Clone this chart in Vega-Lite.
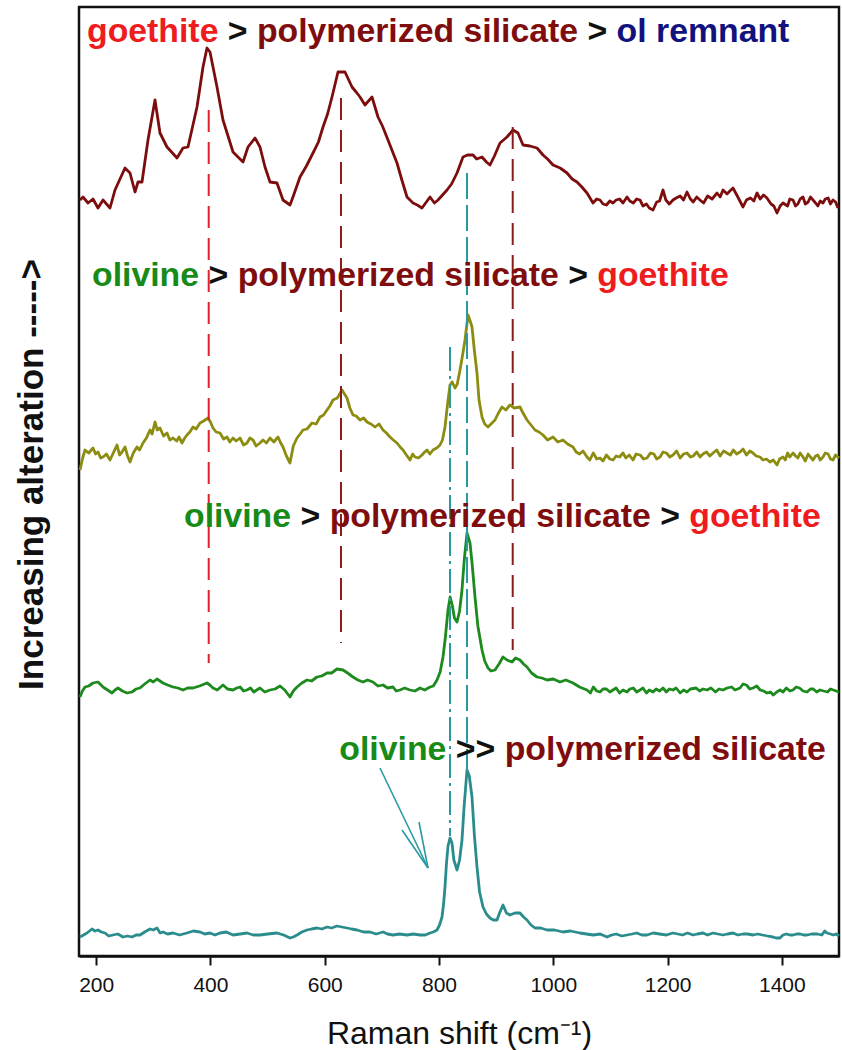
{
  "$schema": "https://vega.github.io/schema/vega-lite/v6.json",
  "width": 760,
  "height": 949,
  "autosize": {"type": "none"},
  "padding": {"left": 79, "top": 7, "right": 3, "bottom": 94},
  "config": {
    "view": {"stroke": "#111111", "strokeWidth": 2.5},
    "font": "Liberation Sans"
  },
  "datasets": {
    "spectra": [
      {"sample":"A","shift":171.75,"intensity":756},{"sample":"A","shift":177,"intensity":759},{"sample":"A","shift":185.75,"intensity":753},{"sample":"A","shift":194.5,"intensity":757},{"sample":"A","shift":203.25,"intensity":748},{"sample":"A","shift":212,"intensity":756},{"sample":"A","shift":224.25,"intensity":748},{"sample":"A","shift":233,"intensity":766},{"sample":"A","shift":250.5,"intensity":788},{"sample":"A","shift":259.25,"intensity":783},{"sample":"A","shift":268,"intensity":764},{"sample":"A","shift":273.25,"intensity":774},{"sample":"A","shift":280.25,"intensity":774},{"sample":"A","shift":290.75,"intensity":816},{"sample":"A","shift":303,"intensity":856},{"sample":"A","shift":311.75,"intensity":823},{"sample":"A","shift":324,"intensity":809},{"sample":"A","shift":341.5,"intensity":798},{"sample":"A","shift":352,"intensity":808},{"sample":"A","shift":360.75,"intensity":809},{"sample":"A","shift":376.5,"intensity":849},{"sample":"A","shift":387,"intensity":889},{"sample":"A","shift":394,"intensity":908},{"sample":"A","shift":399.25,"intensity":904},{"sample":"A","shift":411.5,"intensity":869},{"sample":"A","shift":422,"intensity":836},{"sample":"A","shift":439.5,"intensity":804},{"sample":"A","shift":457,"intensity":794},{"sample":"A","shift":465.75,"intensity":809},{"sample":"A","shift":478,"intensity":818},{"sample":"A","shift":486.75,"intensity":809},{"sample":"A","shift":495.5,"intensity":789},{"sample":"A","shift":504.25,"intensity":774},{"sample":"A","shift":516.5,"intensity":773},{"sample":"A","shift":527,"intensity":756},{"sample":"A","shift":539.25,"intensity":751},{"sample":"A","shift":544.5,"intensity":759},{"sample":"A","shift":556.75,"intensity":779},{"sample":"A","shift":568,"intensity":790},{"sample":"A","shift":579.5,"intensity":803},{"sample":"A","shift":589,"intensity":814},{"sample":"A","shift":597,"intensity":829},{"sample":"A","shift":605,"intensity":842},{"sample":"A","shift":612.75,"intensity":859},{"sample":"A","shift":623.25,"intensity":884},{"sample":"A","shift":635.5,"intensity":884},{"sample":"A","shift":647.75,"intensity":869},{"sample":"A","shift":655,"intensity":864},{"sample":"A","shift":661.75,"intensity":859},{"sample":"A","shift":670.5,"intensity":851},{"sample":"A","shift":682.75,"intensity":859},{"sample":"A","shift":693.25,"intensity":839},{"sample":"A","shift":701,"intensity":830},{"sample":"A","shift":710.75,"intensity":816},{"sample":"A","shift":726.5,"intensity":793},{"sample":"A","shift":735,"intensity":776},{"sample":"A","shift":744,"intensity":759},{"sample":"A","shift":754.5,"intensity":753},{"sample":"A","shift":762,"intensity":751},{"sample":"A","shift":770.25,"intensity":748},{"sample":"A","shift":784.25,"intensity":759},{"sample":"A","shift":792,"intensity":753},{"sample":"A","shift":798.25,"intensity":756},{"sample":"A","shift":814,"intensity":766},{"sample":"A","shift":822,"intensity":772},{"sample":"A","shift":831.5,"intensity":783},{"sample":"A","shift":842,"intensity":799},{"sample":"A","shift":850,"intensity":801},{"sample":"A","shift":859.5,"intensity":801},{"sample":"A","shift":866,"intensity":797},{"sample":"A","shift":875.25,"intensity":799},{"sample":"A","shift":883,"intensity":794},{"sample":"A","shift":889.25,"intensity":791},{"sample":"A","shift":897,"intensity":800},{"sample":"A","shift":906.75,"intensity":813},{"sample":"A","shift":919,"intensity":819},{"sample":"A","shift":929.5,"intensity":826},{"sample":"A","shift":938.25,"intensity":823},{"sample":"A","shift":947,"intensity":811},{"sample":"A","shift":959,"intensity":810},{"sample":"A","shift":971.5,"intensity":808},{"sample":"A","shift":982,"intensity":801},{"sample":"A","shift":990,"intensity":797},{"sample":"A","shift":999.5,"intensity":791},{"sample":"A","shift":1012,"intensity":788},{"sample":"A","shift":1024,"intensity":783},{"sample":"A","shift":1033,"intensity":777},{"sample":"A","shift":1041.5,"intensity":774},{"sample":"A","shift":1050,"intensity":769},{"sample":"A","shift":1059,"intensity":763},{"sample":"A","shift":1069.5,"intensity":753},{"sample":"A","shift":1076,"intensity":757},{"sample":"A","shift":1081.75,"intensity":756},{"sample":"A","shift":1087,"intensity":752},{"sample":"A","shift":1093,"intensity":751},{"sample":"A","shift":1099,"intensity":755},{"sample":"A","shift":1104.5,"intensity":753},{"sample":"A","shift":1110,"intensity":756},{"sample":"A","shift":1116,"intensity":757},{"sample":"A","shift":1122,"intensity":753},{"sample":"A","shift":1129,"intensity":759},{"sample":"A","shift":1134,"intensity":755},{"sample":"A","shift":1140,"intensity":753},{"sample":"A","shift":1146,"intensity":757},{"sample":"A","shift":1151.75,"intensity":756},{"sample":"A","shift":1157,"intensity":750},{"sample":"A","shift":1163,"intensity":752},{"sample":"A","shift":1168,"intensity":748},{"sample":"A","shift":1174.5,"intensity":746},{"sample":"A","shift":1181,"intensity":754},{"sample":"A","shift":1186,"intensity":755},{"sample":"A","shift":1192,"intensity":766},{"sample":"A","shift":1197,"intensity":756},{"sample":"A","shift":1203,"intensity":752},{"sample":"A","shift":1209.5,"intensity":756},{"sample":"A","shift":1215,"intensity":758},{"sample":"A","shift":1222,"intensity":760},{"sample":"A","shift":1228,"intensity":756},{"sample":"A","shift":1234,"intensity":764},{"sample":"A","shift":1240,"intensity":757},{"sample":"A","shift":1245,"intensity":754},{"sample":"A","shift":1251,"intensity":759},{"sample":"A","shift":1256.75,"intensity":756},{"sample":"A","shift":1263,"intensity":753},{"sample":"A","shift":1270,"intensity":760},{"sample":"A","shift":1278,"intensity":757},{"sample":"A","shift":1286.5,"intensity":763},{"sample":"A","shift":1292,"intensity":759},{"sample":"A","shift":1297,"intensity":766},{"sample":"A","shift":1304,"intensity":762},{"sample":"A","shift":1309,"intensity":765},{"sample":"A","shift":1314.5,"intensity":768},{"sample":"A","shift":1322,"intensity":760},{"sample":"A","shift":1332,"intensity":749},{"sample":"A","shift":1338,"intensity":756},{"sample":"A","shift":1345,"intensity":758},{"sample":"A","shift":1351,"intensity":755},{"sample":"A","shift":1356.5,"intensity":763},{"sample":"A","shift":1362,"intensity":757},{"sample":"A","shift":1368,"intensity":761},{"sample":"A","shift":1374,"intensity":758},{"sample":"A","shift":1381,"intensity":752},{"sample":"A","shift":1386,"intensity":750},{"sample":"A","shift":1391.5,"intensity":743},{"sample":"A","shift":1397,"intensity":750},{"sample":"A","shift":1402,"intensity":753},{"sample":"A","shift":1410,"intensity":750},{"sample":"A","shift":1414,"intensity":757},{"sample":"A","shift":1419.5,"intensity":756},{"sample":"A","shift":1424,"intensity":750},{"sample":"A","shift":1428,"intensity":752},{"sample":"A","shift":1432,"intensity":757},{"sample":"A","shift":1437,"intensity":759},{"sample":"A","shift":1441,"intensity":752},{"sample":"A","shift":1446,"intensity":754},{"sample":"A","shift":1450,"intensity":759},{"sample":"A","shift":1454.5,"intensity":756},{"sample":"A","shift":1459,"intensity":753},{"sample":"A","shift":1463,"intensity":750},{"sample":"A","shift":1467,"intensity":755},{"sample":"A","shift":1472,"intensity":753},{"sample":"A","shift":1476,"intensity":757},{"sample":"A","shift":1481,"intensity":758},{"sample":"A","shift":1485,"intensity":752},{"sample":"A","shift":1489.5,"intensity":756},{"sample":"A","shift":1494,"intensity":754},{"sample":"A","shift":1498.25,"intensity":748},

      {"sample":"B","shift":171.75,"intensity":486},{"sample":"B","shift":176,"intensity":497},{"sample":"B","shift":180.5,"intensity":506},{"sample":"B","shift":187,"intensity":503},{"sample":"B","shift":194.5,"intensity":508},{"sample":"B","shift":199,"intensity":502},{"sample":"B","shift":203.25,"intensity":504},{"sample":"B","shift":208,"intensity":498},{"sample":"B","shift":212,"intensity":499},{"sample":"B","shift":218,"intensity":502},{"sample":"B","shift":224.25,"intensity":496},{"sample":"B","shift":230,"intensity":503},{"sample":"B","shift":236.5,"intensity":511},{"sample":"B","shift":241,"intensity":501},{"sample":"B","shift":245.25,"intensity":504},{"sample":"B","shift":250.5,"intensity":509},{"sample":"B","shift":255,"intensity":500},{"sample":"B","shift":259.25,"intensity":494},{"sample":"B","shift":265,"intensity":503},{"sample":"B","shift":271.5,"intensity":509},{"sample":"B","shift":276,"intensity":506},{"sample":"B","shift":282,"intensity":513},{"sample":"B","shift":288,"intensity":518},{"sample":"B","shift":294.25,"intensity":526},{"sample":"B","shift":298,"intensity":522},{"sample":"B","shift":303,"intensity":534},{"sample":"B","shift":307,"intensity":526},{"sample":"B","shift":311.75,"intensity":528},{"sample":"B","shift":318,"intensity":520},{"sample":"B","shift":324,"intensity":523},{"sample":"B","shift":329,"intensity":516},{"sample":"B","shift":334.5,"intensity":518},{"sample":"B","shift":341,"intensity":515},{"sample":"B","shift":345,"intensity":519},{"sample":"B","shift":350.25,"intensity":513},{"sample":"B","shift":355,"intensity":518},{"sample":"B","shift":359,"intensity":521},{"sample":"B","shift":364,"intensity":524},{"sample":"B","shift":369.5,"intensity":529},{"sample":"B","shift":375,"intensity":527},{"sample":"B","shift":381.75,"intensity":533},{"sample":"B","shift":388,"intensity":535},{"sample":"B","shift":395.75,"intensity":538},{"sample":"B","shift":400,"intensity":534},{"sample":"B","shift":404.5,"intensity":528},{"sample":"B","shift":410,"intensity":524},{"sample":"B","shift":416.75,"intensity":523},{"sample":"B","shift":423,"intensity":517},{"sample":"B","shift":429,"intensity":519},{"sample":"B","shift":434,"intensity":514},{"sample":"B","shift":439.5,"intensity":518},{"sample":"B","shift":445,"intensity":515},{"sample":"B","shift":451.75,"intensity":518},{"sample":"B","shift":458,"intensity":511},{"sample":"B","shift":464,"intensity":513},{"sample":"B","shift":469,"intensity":518},{"sample":"B","shift":474.5,"intensity":516},{"sample":"B","shift":480,"intensity":510},{"sample":"B","shift":486.75,"intensity":513},{"sample":"B","shift":492,"intensity":516},{"sample":"B","shift":498,"intensity":513},{"sample":"B","shift":504.25,"intensity":518},{"sample":"B","shift":511,"intensity":514},{"sample":"B","shift":518.25,"intensity":519},{"sample":"B","shift":523,"intensity":513},{"sample":"B","shift":527,"intensity":509},{"sample":"B","shift":533,"intensity":500},{"sample":"B","shift":539.25,"intensity":493},{"sample":"B","shift":545,"intensity":510},{"sample":"B","shift":551.5,"intensity":518},{"sample":"B","shift":557,"intensity":522},{"sample":"B","shift":562,"intensity":526},{"sample":"B","shift":569,"intensity":527},{"sample":"B","shift":577.75,"intensity":533},{"sample":"B","shift":585,"intensity":532},{"sample":"B","shift":591.75,"intensity":539},{"sample":"B","shift":598,"intensity":541},{"sample":"B","shift":604,"intensity":546},{"sample":"B","shift":609,"intensity":550},{"sample":"B","shift":614.5,"intensity":556},{"sample":"B","shift":622,"intensity":558},{"sample":"B","shift":630.25,"intensity":566},{"sample":"B","shift":639,"intensity":558},{"sample":"B","shift":644,"intensity":548},{"sample":"B","shift":649.5,"intensity":541},{"sample":"B","shift":655,"intensity":540},{"sample":"B","shift":661.75,"intensity":536},{"sample":"B","shift":668,"intensity":538},{"sample":"B","shift":674,"intensity":534},{"sample":"B","shift":681,"intensity":532},{"sample":"B","shift":688,"intensity":529},{"sample":"B","shift":695,"intensity":532},{"sample":"B","shift":702,"intensity":526},{"sample":"B","shift":708,"intensity":523},{"sample":"B","shift":714.25,"intensity":519},{"sample":"B","shift":720,"intensity":516},{"sample":"B","shift":726.5,"intensity":513},{"sample":"B","shift":732,"intensity":509},{"sample":"B","shift":737,"intensity":506},{"sample":"B","shift":743,"intensity":501},{"sample":"B","shift":749.25,"intensity":496},{"sample":"B","shift":754,"intensity":502},{"sample":"B","shift":758,"intensity":499},{"sample":"B","shift":764,"intensity":498},{"sample":"B","shift":770.25,"intensity":501},{"sample":"B","shift":775,"intensity":504},{"sample":"B","shift":779,"intensity":506},{"sample":"B","shift":784,"intensity":502},{"sample":"B","shift":789.5,"intensity":506},{"sample":"B","shift":796,"intensity":508},{"sample":"B","shift":801.75,"intensity":511},{"sample":"B","shift":806,"intensity":516},{"sample":"B","shift":810.5,"intensity":529},{"sample":"B","shift":815,"intensity":552},{"sample":"B","shift":819.25,"intensity":571},{"sample":"B","shift":823,"intensity":574},{"sample":"B","shift":828,"intensity":568},{"sample":"B","shift":832,"intensity":572},{"sample":"B","shift":836.75,"intensity":586},{"sample":"B","shift":841,"intensity":600},{"sample":"B","shift":845.5,"intensity":616},{"sample":"B","shift":850.75,"intensity":641},{"sample":"B","shift":854,"intensity":636},{"sample":"B","shift":857.75,"intensity":629},{"sample":"B","shift":862,"intensity":605},{"sample":"B","shift":866.5,"intensity":583},{"sample":"B","shift":870,"intensity":556},{"sample":"B","shift":875.25,"intensity":539},{"sample":"B","shift":880,"intensity":532},{"sample":"B","shift":885.75,"intensity":529},{"sample":"B","shift":891,"intensity":532},{"sample":"B","shift":898,"intensity":536},{"sample":"B","shift":904,"intensity":543},{"sample":"B","shift":910.25,"intensity":549},{"sample":"B","shift":917,"intensity":546},{"sample":"B","shift":924.25,"intensity":551},{"sample":"B","shift":932,"intensity":548},{"sample":"B","shift":941.75,"intensity":549},{"sample":"B","shift":947,"intensity":543},{"sample":"B","shift":954,"intensity":536},{"sample":"B","shift":961,"intensity":531},{"sample":"B","shift":968,"intensity":526},{"sample":"B","shift":975,"intensity":524},{"sample":"B","shift":982,"intensity":521},{"sample":"B","shift":990,"intensity":516},{"sample":"B","shift":999.5,"intensity":519},{"sample":"B","shift":1008,"intensity":514},{"sample":"B","shift":1017,"intensity":516},{"sample":"B","shift":1025,"intensity":512},{"sample":"B","shift":1034.5,"intensity":509},{"sample":"B","shift":1040,"intensity":504},{"sample":"B","shift":1046,"intensity":502},{"sample":"B","shift":1052,"intensity":505},{"sample":"B","shift":1059,"intensity":499},{"sample":"B","shift":1064,"intensity":496},{"sample":"B","shift":1070,"intensity":503},{"sample":"B","shift":1076,"intensity":497},{"sample":"B","shift":1081.75,"intensity":498},{"sample":"B","shift":1087,"intensity":495},{"sample":"B","shift":1093,"intensity":501},{"sample":"B","shift":1099,"intensity":497},{"sample":"B","shift":1104.5,"intensity":496},{"sample":"B","shift":1110,"intensity":500},{"sample":"B","shift":1116,"intensity":499},{"sample":"B","shift":1122,"intensity":503},{"sample":"B","shift":1127,"intensity":498},{"sample":"B","shift":1133,"intensity":501},{"sample":"B","shift":1139.5,"intensity":496},{"sample":"B","shift":1145,"intensity":502},{"sample":"B","shift":1152,"intensity":501},{"sample":"B","shift":1158,"intensity":497},{"sample":"B","shift":1164,"intensity":498},{"sample":"B","shift":1170,"intensity":503},{"sample":"B","shift":1176,"intensity":502},{"sample":"B","shift":1181,"intensity":497},{"sample":"B","shift":1186.75,"intensity":499},{"sample":"B","shift":1192,"intensity":504},{"sample":"B","shift":1198,"intensity":503},{"sample":"B","shift":1204,"intensity":499},{"sample":"B","shift":1209.5,"intensity":501},{"sample":"B","shift":1216,"intensity":505},{"sample":"B","shift":1222,"intensity":498},{"sample":"B","shift":1228,"intensity":502},{"sample":"B","shift":1234,"intensity":503},{"sample":"B","shift":1240,"intensity":499},{"sample":"B","shift":1245,"intensity":500},{"sample":"B","shift":1251,"intensity":504},{"sample":"B","shift":1256.75,"intensity":499},{"sample":"B","shift":1262,"intensity":502},{"sample":"B","shift":1268,"intensity":504},{"sample":"B","shift":1274,"intensity":500},{"sample":"B","shift":1279.5,"intensity":503},{"sample":"B","shift":1286,"intensity":506},{"sample":"B","shift":1292,"intensity":500},{"sample":"B","shift":1298,"intensity":505},{"sample":"B","shift":1304,"intensity":503},{"sample":"B","shift":1310,"intensity":501},{"sample":"B","shift":1315,"intensity":506},{"sample":"B","shift":1321,"intensity":502},{"sample":"B","shift":1326.75,"intensity":504},{"sample":"B","shift":1332,"intensity":507},{"sample":"B","shift":1338,"intensity":501},{"sample":"B","shift":1344,"intensity":505},{"sample":"B","shift":1349.5,"intensity":503},{"sample":"B","shift":1355,"intensity":500},{"sample":"B","shift":1361.75,"intensity":499},{"sample":"B","shift":1367,"intensity":496},{"sample":"B","shift":1373,"intensity":497},{"sample":"B","shift":1379.25,"intensity":494},{"sample":"B","shift":1385,"intensity":496},{"sample":"B","shift":1391.5,"intensity":491},{"sample":"B","shift":1396,"intensity":497},{"sample":"B","shift":1402,"intensity":499},{"sample":"B","shift":1406,"intensity":496},{"sample":"B","shift":1410,"intensity":503},{"sample":"B","shift":1414,"intensity":499},{"sample":"B","shift":1419.5,"intensity":503},{"sample":"B","shift":1424,"intensity":500},{"sample":"B","shift":1428,"intensity":498},{"sample":"B","shift":1432,"intensity":503},{"sample":"B","shift":1437,"intensity":499},{"sample":"B","shift":1441,"intensity":495},{"sample":"B","shift":1446,"intensity":502},{"sample":"B","shift":1450,"intensity":499},{"sample":"B","shift":1454.5,"intensity":496},{"sample":"B","shift":1459,"intensity":500},{"sample":"B","shift":1463,"intensity":501},{"sample":"B","shift":1467,"intensity":496},{"sample":"B","shift":1472,"intensity":499},{"sample":"B","shift":1476,"intensity":503},{"sample":"B","shift":1481,"intensity":502},{"sample":"B","shift":1485,"intensity":497},{"sample":"B","shift":1489.5,"intensity":496},{"sample":"B","shift":1494,"intensity":501},{"sample":"B","shift":1500,"intensity":498},

      {"sample":"C","shift":171.75,"intensity":259},{"sample":"C","shift":176,"intensity":265},{"sample":"C","shift":180.5,"intensity":269},{"sample":"C","shift":187,"intensity":270},{"sample":"C","shift":194.5,"intensity":273},{"sample":"C","shift":203.25,"intensity":274},{"sample":"C","shift":212,"intensity":269},{"sample":"C","shift":220,"intensity":266},{"sample":"C","shift":227.75,"intensity":263},{"sample":"C","shift":233,"intensity":266},{"sample":"C","shift":238.25,"intensity":268},{"sample":"C","shift":246,"intensity":265},{"sample":"C","shift":254,"intensity":263},{"sample":"C","shift":262.75,"intensity":264},{"sample":"C","shift":270,"intensity":267},{"sample":"C","shift":276.75,"intensity":268},{"sample":"C","shift":285,"intensity":272},{"sample":"C","shift":294.25,"intensity":276},{"sample":"C","shift":300,"intensity":274},{"sample":"C","shift":306.5,"intensity":277},{"sample":"C","shift":317,"intensity":273},{"sample":"C","shift":325,"intensity":271},{"sample":"C","shift":334.5,"intensity":269},{"sample":"C","shift":343,"intensity":268},{"sample":"C","shift":352,"intensity":266},{"sample":"C","shift":360,"intensity":268},{"sample":"C","shift":369.5,"intensity":268},{"sample":"C","shift":381,"intensity":270},{"sample":"C","shift":394,"intensity":273},{"sample":"C","shift":399,"intensity":271},{"sample":"C","shift":404.5,"intensity":268},{"sample":"C","shift":412,"intensity":266},{"sample":"C","shift":422,"intensity":271},{"sample":"C","shift":430,"intensity":267},{"sample":"C","shift":439.5,"intensity":266},{"sample":"C","shift":446,"intensity":268},{"sample":"C","shift":452,"intensity":269},{"sample":"C","shift":458,"intensity":265},{"sample":"C","shift":464,"intensity":266},{"sample":"C","shift":470,"intensity":268},{"sample":"C","shift":476,"intensity":264},{"sample":"C","shift":481,"intensity":266},{"sample":"C","shift":486.75,"intensity":268},{"sample":"C","shift":495,"intensity":264},{"sample":"C","shift":504.25,"intensity":266},{"sample":"C","shift":513,"intensity":267},{"sample":"C","shift":521.75,"intensity":270},{"sample":"C","shift":530,"intensity":266},{"sample":"C","shift":539.25,"intensity":259},{"sample":"C","shift":545,"intensity":265},{"sample":"C","shift":551.5,"intensity":269},{"sample":"C","shift":560,"intensity":273},{"sample":"C","shift":569,"intensity":276},{"sample":"C","shift":577,"intensity":275},{"sample":"C","shift":586.5,"intensity":279},{"sample":"C","shift":595,"intensity":280},{"sample":"C","shift":604,"intensity":283},{"sample":"C","shift":612,"intensity":283},{"sample":"C","shift":621.5,"intensity":287},{"sample":"C","shift":632,"intensity":286},{"sample":"C","shift":640,"intensity":283},{"sample":"C","shift":649.5,"intensity":279},{"sample":"C","shift":658,"intensity":276},{"sample":"C","shift":667,"intensity":274},{"sample":"C","shift":675,"intensity":276},{"sample":"C","shift":684.5,"intensity":274},{"sample":"C","shift":693,"intensity":270},{"sample":"C","shift":702,"intensity":271},{"sample":"C","shift":710,"intensity":268},{"sample":"C","shift":719.5,"intensity":269},{"sample":"C","shift":725,"intensity":265},{"sample":"C","shift":731.75,"intensity":266},{"sample":"C","shift":740,"intensity":268},{"sample":"C","shift":749.25,"intensity":266},{"sample":"C","shift":758,"intensity":265},{"sample":"C","shift":766.75,"intensity":268},{"sample":"C","shift":775,"intensity":266},{"sample":"C","shift":784.25,"intensity":269},{"sample":"C","shift":790,"intensity":270},{"sample":"C","shift":796.5,"intensity":276},{"sample":"C","shift":802,"intensity":284},{"sample":"C","shift":807,"intensity":299},{"sample":"C","shift":811,"intensity":318},{"sample":"C","shift":815.75,"intensity":346},{"sample":"C","shift":819.5,"intensity":359},{"sample":"C","shift":823.5,"intensity":350},{"sample":"C","shift":827,"intensity":338},{"sample":"C","shift":831.5,"intensity":334},{"sample":"C","shift":836,"intensity":345},{"sample":"C","shift":840.25,"intensity":366},{"sample":"C","shift":844,"intensity":395},{"sample":"C","shift":849,"intensity":423},{"sample":"C","shift":854.25,"intensity":413},{"sample":"C","shift":858,"intensity":392},{"sample":"C","shift":863,"intensity":359},{"sample":"C","shift":868,"intensity":330},{"sample":"C","shift":875.25,"intensity":306},{"sample":"C","shift":880,"intensity":295},{"sample":"C","shift":885.75,"intensity":288},{"sample":"C","shift":891,"intensity":285},{"sample":"C","shift":898,"intensity":286},{"sample":"C","shift":905,"intensity":292},{"sample":"C","shift":912,"intensity":299},{"sample":"C","shift":919,"intensity":296},{"sample":"C","shift":927.75,"intensity":294},{"sample":"C","shift":934,"intensity":298},{"sample":"C","shift":941.75,"intensity":296},{"sample":"C","shift":948,"intensity":292},{"sample":"C","shift":954,"intensity":289},{"sample":"C","shift":962,"intensity":283},{"sample":"C","shift":971.5,"intensity":279},{"sample":"C","shift":980,"intensity":278},{"sample":"C","shift":989,"intensity":276},{"sample":"C","shift":1000,"intensity":277},{"sample":"C","shift":1011.75,"intensity":274},{"sample":"C","shift":1022,"intensity":276},{"sample":"C","shift":1034.5,"intensity":273},{"sample":"C","shift":1046,"intensity":269},{"sample":"C","shift":1059,"intensity":266},{"sample":"C","shift":1065,"intensity":263},{"sample":"C","shift":1070,"intensity":269},{"sample":"C","shift":1076,"intensity":265},{"sample":"C","shift":1081.75,"intensity":264},{"sample":"C","shift":1087,"intensity":267},{"sample":"C","shift":1093,"intensity":267},{"sample":"C","shift":1099,"intensity":264},{"sample":"C","shift":1104.5,"intensity":266},{"sample":"C","shift":1110,"intensity":268},{"sample":"C","shift":1116,"intensity":263},{"sample":"C","shift":1122,"intensity":266},{"sample":"C","shift":1129,"intensity":264},{"sample":"C","shift":1134,"intensity":267},{"sample":"C","shift":1140,"intensity":268},{"sample":"C","shift":1146,"intensity":264},{"sample":"C","shift":1151.75,"intensity":266},{"sample":"C","shift":1157,"intensity":268},{"sample":"C","shift":1163,"intensity":263},{"sample":"C","shift":1168,"intensity":266},{"sample":"C","shift":1174.5,"intensity":264},{"sample":"C","shift":1180,"intensity":267},{"sample":"C","shift":1186,"intensity":265},{"sample":"C","shift":1192,"intensity":268},{"sample":"C","shift":1198,"intensity":264},{"sample":"C","shift":1203,"intensity":267},{"sample":"C","shift":1209.5,"intensity":266},{"sample":"C","shift":1215,"intensity":268},{"sample":"C","shift":1222,"intensity":263},{"sample":"C","shift":1228,"intensity":266},{"sample":"C","shift":1234,"intensity":264},{"sample":"C","shift":1240,"intensity":267},{"sample":"C","shift":1250,"intensity":268},{"sample":"C","shift":1256,"intensity":265},{"sample":"C","shift":1262,"intensity":267},{"sample":"C","shift":1269,"intensity":266},{"sample":"C","shift":1276,"intensity":268},{"sample":"C","shift":1284,"intensity":264},{"sample":"C","shift":1290,"intensity":267},{"sample":"C","shift":1297,"intensity":266},{"sample":"C","shift":1304,"intensity":268},{"sample":"C","shift":1312,"intensity":269},{"sample":"C","shift":1318,"intensity":266},{"sample":"C","shift":1326.75,"intensity":268},{"sample":"C","shift":1332,"intensity":272},{"sample":"C","shift":1338,"intensity":271},{"sample":"C","shift":1344,"intensity":267},{"sample":"C","shift":1349.5,"intensity":268},{"sample":"C","shift":1356,"intensity":270},{"sample":"C","shift":1362,"intensity":266},{"sample":"C","shift":1368,"intensity":265},{"sample":"C","shift":1374,"intensity":263},{"sample":"C","shift":1380,"intensity":264},{"sample":"C","shift":1385,"intensity":261},{"sample":"C","shift":1391,"intensity":264},{"sample":"C","shift":1396.75,"intensity":266},{"sample":"C","shift":1402,"intensity":264},{"sample":"C","shift":1408,"intensity":268},{"sample":"C","shift":1414,"intensity":265},{"sample":"C","shift":1419.5,"intensity":266},{"sample":"C","shift":1425,"intensity":269},{"sample":"C","shift":1431,"intensity":268},{"sample":"C","shift":1437,"intensity":265},{"sample":"C","shift":1444,"intensity":264},{"sample":"C","shift":1450,"intensity":267},{"sample":"C","shift":1455,"intensity":267},{"sample":"C","shift":1461,"intensity":264},{"sample":"C","shift":1466.75,"intensity":266},{"sample":"C","shift":1473,"intensity":265},{"sample":"C","shift":1480,"intensity":264},{"sample":"C","shift":1485,"intensity":267},{"sample":"C","shift":1490,"intensity":266},{"sample":"C","shift":1495,"intensity":265},{"sample":"C","shift":1500,"intensity":264},

      {"sample":"D","shift":171.75,"intensity":19},{"sample":"D","shift":178,"intensity":21},{"sample":"D","shift":184,"intensity":23},{"sample":"D","shift":192.75,"intensity":27},{"sample":"D","shift":198,"intensity":25},{"sample":"D","shift":203.25,"intensity":26},{"sample":"D","shift":209,"intensity":24},{"sample":"D","shift":215.5,"intensity":23},{"sample":"D","shift":222,"intensity":20},{"sample":"D","shift":229.5,"intensity":21},{"sample":"D","shift":238,"intensity":22},{"sample":"D","shift":247,"intensity":19},{"sample":"D","shift":255,"intensity":20},{"sample":"D","shift":262.75,"intensity":19},{"sample":"D","shift":270,"intensity":21},{"sample":"D","shift":276.75,"intensity":21},{"sample":"D","shift":285,"intensity":24},{"sample":"D","shift":294.25,"intensity":27},{"sample":"D","shift":300,"intensity":26},{"sample":"D","shift":306.5,"intensity":28},{"sample":"D","shift":312,"intensity":23},{"sample":"D","shift":317,"intensity":24},{"sample":"D","shift":325,"intensity":22},{"sample":"D","shift":334.5,"intensity":23},{"sample":"D","shift":346,"intensity":21},{"sample":"D","shift":359,"intensity":23},{"sample":"D","shift":370,"intensity":25},{"sample":"D","shift":381.75,"intensity":24},{"sample":"D","shift":390,"intensity":22},{"sample":"D","shift":399.25,"intensity":23},{"sample":"D","shift":408,"intensity":21},{"sample":"D","shift":416.75,"intensity":23},{"sample":"D","shift":428,"intensity":24},{"sample":"D","shift":439.5,"intensity":21},{"sample":"D","shift":452,"intensity":22},{"sample":"D","shift":464,"intensity":23},{"sample":"D","shift":475,"intensity":21},{"sample":"D","shift":486.75,"intensity":21},{"sample":"D","shift":500,"intensity":22},{"sample":"D","shift":516.5,"intensity":23},{"sample":"D","shift":528,"intensity":21},{"sample":"D","shift":539.25,"intensity":18},{"sample":"D","shift":545,"intensity":19},{"sample":"D","shift":551.5,"intensity":21},{"sample":"D","shift":560,"intensity":24},{"sample":"D","shift":569,"intensity":26},{"sample":"D","shift":577,"intensity":27},{"sample":"D","shift":586.5,"intensity":28},{"sample":"D","shift":595,"intensity":27},{"sample":"D","shift":604,"intensity":29},{"sample":"D","shift":612,"intensity":28},{"sample":"D","shift":621.5,"intensity":30},{"sample":"D","shift":630,"intensity":29},{"sample":"D","shift":639,"intensity":28},{"sample":"D","shift":647,"intensity":27},{"sample":"D","shift":656.5,"intensity":26},{"sample":"D","shift":668,"intensity":24},{"sample":"D","shift":679.25,"intensity":24},{"sample":"D","shift":690,"intensity":22},{"sample":"D","shift":702,"intensity":24},{"sample":"D","shift":710,"intensity":22},{"sample":"D","shift":719.5,"intensity":21},{"sample":"D","shift":731,"intensity":22},{"sample":"D","shift":744,"intensity":21},{"sample":"D","shift":755,"intensity":22},{"sample":"D","shift":766.75,"intensity":21},{"sample":"D","shift":776,"intensity":21},{"sample":"D","shift":784.25,"intensity":23},{"sample":"D","shift":790,"intensity":24},{"sample":"D","shift":796.5,"intensity":26},{"sample":"D","shift":801,"intensity":31},{"sample":"D","shift":805.25,"intensity":39},{"sample":"D","shift":808,"intensity":52},{"sample":"D","shift":810.5,"intensity":69},{"sample":"D","shift":813,"intensity":92},{"sample":"D","shift":815.75,"intensity":110},{"sample":"D","shift":819.25,"intensity":118},{"sample":"D","shift":822.75,"intensity":113},{"sample":"D","shift":826,"intensity":96},{"sample":"D","shift":831.5,"intensity":86},{"sample":"D","shift":836,"intensity":96},{"sample":"D","shift":840.25,"intensity":116},{"sample":"D","shift":844,"intensity":150},{"sample":"D","shift":849,"intensity":186},{"sample":"D","shift":853,"intensity":180},{"sample":"D","shift":857.75,"intensity":159},{"sample":"D","shift":862,"intensity":120},{"sample":"D","shift":866.5,"intensity":89},{"sample":"D","shift":871,"intensity":64},{"sample":"D","shift":877,"intensity":49},{"sample":"D","shift":883,"intensity":42},{"sample":"D","shift":889.25,"intensity":38},{"sample":"D","shift":895,"intensity":36},{"sample":"D","shift":901.5,"intensity":36},{"sample":"D","shift":906,"intensity":43},{"sample":"D","shift":912,"intensity":51},{"sample":"D","shift":918,"intensity":43},{"sample":"D","shift":924.25,"intensity":41},{"sample":"D","shift":933,"intensity":43},{"sample":"D","shift":941.75,"intensity":43},{"sample":"D","shift":948,"intensity":39},{"sample":"D","shift":954,"intensity":36},{"sample":"D","shift":961,"intensity":31},{"sample":"D","shift":968,"intensity":28},{"sample":"D","shift":978,"intensity":28},{"sample":"D","shift":989,"intensity":26},{"sample":"D","shift":1002,"intensity":26},{"sample":"D","shift":1017,"intensity":24},{"sample":"D","shift":1030,"intensity":25},{"sample":"D","shift":1046.75,"intensity":23},{"sample":"D","shift":1058,"intensity":22},{"sample":"D","shift":1070,"intensity":21},{"sample":"D","shift":1082,"intensity":22},{"sample":"D","shift":1094,"intensity":19},{"sample":"D","shift":1102,"intensity":21},{"sample":"D","shift":1110,"intensity":22},{"sample":"D","shift":1120,"intensity":20},{"sample":"D","shift":1129,"intensity":21},{"sample":"D","shift":1138,"intensity":22},{"sample":"D","shift":1146,"intensity":23},{"sample":"D","shift":1155,"intensity":21},{"sample":"D","shift":1164,"intensity":21},{"sample":"D","shift":1175,"intensity":23},{"sample":"D","shift":1186,"intensity":22},{"sample":"D","shift":1198,"intensity":21},{"sample":"D","shift":1209.5,"intensity":23},{"sample":"D","shift":1218,"intensity":22},{"sample":"D","shift":1226,"intensity":21},{"sample":"D","shift":1235,"intensity":23},{"sample":"D","shift":1244.5,"intensity":21},{"sample":"D","shift":1252,"intensity":22},{"sample":"D","shift":1262,"intensity":23},{"sample":"D","shift":1270,"intensity":21},{"sample":"D","shift":1279.5,"intensity":23},{"sample":"D","shift":1288,"intensity":22},{"sample":"D","shift":1297,"intensity":21},{"sample":"D","shift":1305,"intensity":22},{"sample":"D","shift":1314.5,"intensity":23},{"sample":"D","shift":1323,"intensity":21},{"sample":"D","shift":1332,"intensity":22},{"sample":"D","shift":1340,"intensity":22},{"sample":"D","shift":1349.5,"intensity":21},{"sample":"D","shift":1358,"intensity":22},{"sample":"D","shift":1366,"intensity":21},{"sample":"D","shift":1375,"intensity":20},{"sample":"D","shift":1384.5,"intensity":19},{"sample":"D","shift":1390,"intensity":18},{"sample":"D","shift":1396.75,"intensity":18},{"sample":"D","shift":1402,"intensity":21},{"sample":"D","shift":1408,"intensity":22},{"sample":"D","shift":1414,"intensity":21},{"sample":"D","shift":1419.5,"intensity":21},{"sample":"D","shift":1426,"intensity":22},{"sample":"D","shift":1432,"intensity":22},{"sample":"D","shift":1438,"intensity":21},{"sample":"D","shift":1444,"intensity":21},{"sample":"D","shift":1452,"intensity":22},{"sample":"D","shift":1462,"intensity":22},{"sample":"D","shift":1470,"intensity":21},{"sample":"D","shift":1475,"intensity":25},{"sample":"D","shift":1479,"intensity":23},{"sample":"D","shift":1485,"intensity":22},{"sample":"D","shift":1490,"intensity":21},{"sample":"D","shift":1495,"intensity":22},{"sample":"D","shift":1500,"intensity":20}
    ],
    "markers": [
      {"band": "goethite", "shift": 397, "top": 846, "bottom": 293},
      {"band": "silicate", "shift": 628.5, "top": 858, "bottom": 313},
      {"band": "silicate", "shift": 929, "top": 829, "bottom": 306},
      {"band": "olivine 849", "shift": 849, "top": 783, "bottom": 186},
      {"band": "olivine 819", "shift": 819.25, "top": 609, "bottom": 120}
    ],
    "arrow": [
      {"shift": 696.75, "intensity": 188, "shift_end": 780.75, "intensity_end": 88},
      {"shift": 735.25, "intensity": 126, "shift_end": 780.75, "intensity_end": 88},
      {"shift": 765, "intensity": 134, "shift_end": 780.75, "intensity_end": 88}
    ],
    "labels": [
      {"kind": "goethite", "text": "goethite", "shift": 184, "intensity": 914},
      {"kind": "sep", "text": ">", "shift": 430.4, "intensity": 914},
      {"kind": "silicate", "text": "polymerized silicate", "shift": 481.3, "intensity": 914},
      {"kind": "sep", "text": ">", "shift": 1059.9, "intensity": 914},
      {"kind": "remnant", "text": "ol remnant", "shift": 1110.8, "intensity": 914},

      {"kind": "olivine", "text": "olivine", "shift": 192.75, "intensity": 670},
      {"kind": "sep", "text": ">", "shift": 396.6, "intensity": 670},
      {"kind": "silicate", "text": "polymerized silicate", "shift": 447.6, "intensity": 670},
      {"kind": "sep", "text": ">", "shift": 1026.1, "intensity": 670},
      {"kind": "goethite", "text": "goethite", "shift": 1077, "intensity": 670},

      {"kind": "olivine", "text": "olivine", "shift": 353.75, "intensity": 429},
      {"kind": "sep", "text": ">", "shift": 557.6, "intensity": 429},
      {"kind": "silicate", "text": "polymerized silicate", "shift": 608.6, "intensity": 429},
      {"kind": "sep", "text": ">", "shift": 1187.1, "intensity": 429},
      {"kind": "goethite", "text": "goethite", "shift": 1238, "intensity": 429},

      {"kind": "olivine", "text": "olivine", "shift": 625.5, "intensity": 196},
      {"kind": "sep", "text": ">>", "shift": 829.4, "intensity": 196},
      {"kind": "silicate", "text": "polymerized silicate", "shift": 915, "intensity": 196}
    ]
  },
  "layer": [
    {
      "data": {"name": "spectra"},
      "mark": {"type": "line", "strokeWidth": 2.8, "strokeJoin": "round"},
      "encoding": {
        "x": {
          "field": "shift", "type": "quantitative",
          "scale": {"domain": [170, 1500], "nice": false, "zero": false},
          "axis": {
            "title": "Raman shift (cm⁻¹)",
            "values": [200, 400, 600, 800, 1000, 1200, 1400],
            "format": "d",
            "grid": false,
            "domainColor": "#111111", "domainWidth": 2.5,
            "tickColor": "#111111", "tickWidth": 2, "tickSize": 9,
            "labelFontSize": 21, "labelColor": "#111111", "labelPadding": 9,
            "titleFontSize": 32, "titleFontWeight": "normal", "titleColor": "#111111",
            "titleBaseline": "alphabetic", "titleY": 87
          }
        },
        "y": {
          "field": "intensity", "type": "quantitative",
          "scale": {"domain": [0, 949], "nice": false, "zero": false},
          "axis": {
            "title": "Increasing alteration ----->",
            "labels": false, "ticks": false, "domain": false, "grid": false,
            "titleFontSize": 35, "titleFontWeight": "bold", "titleColor": "#111111",
            "titleAngle": -90, "titleAlign": "center", "titleBaseline": "middle",
            "titleX": -48, "titleY": 467
          }
        },
        "color": {
          "field": "sample", "type": "nominal",
          "scale": {"domain": ["A", "B", "C", "D"], "range": ["#7d0d0d", "#8c8c10", "#1c8a1c", "#2a8c8c"]},
          "legend": null
        }
      }
    },
    {
      "data": {"name": "markers"},
      "transform": [{"filter": "datum.band === 'goethite' || datum.band === 'silicate'"}],
      "mark": {"type": "rule", "strokeWidth": 2, "strokeDash": [22, 10]},
      "encoding": {
        "x": {"field": "shift", "type": "quantitative"},
        "y": {"field": "top", "type": "quantitative"},
        "y2": {"field": "bottom"},
        "color": {
          "field": "band", "type": "nominal",
          "scale": {"domain": ["goethite", "silicate", "olivine 849", "olivine 819"], "range": ["#e0202a", "#8a1c1c", "#2a9aa2", "#2a9aa2"]},
          "legend": null
        }
      }
    },
    {
      "data": {"name": "markers"},
      "transform": [{"filter": "datum.band === 'olivine 849'"}],
      "mark": {"type": "rule", "strokeWidth": 2, "strokeDash": [26, 6], "color": "#2a9aa2"},
      "encoding": {
        "x": {"field": "shift", "type": "quantitative"},
        "y": {"field": "top", "type": "quantitative"},
        "y2": {"field": "bottom"}
      }
    },
    {
      "data": {"name": "markers"},
      "transform": [{"filter": "datum.band === 'olivine 819'"}],
      "mark": {"type": "rule", "strokeWidth": 2, "strokeDash": [24, 5, 3, 5], "color": "#2a9aa2"},
      "encoding": {
        "x": {"field": "shift", "type": "quantitative"},
        "y": {"field": "top", "type": "quantitative"},
        "y2": {"field": "bottom"}
      }
    },
    {
      "data": {"name": "arrow"},
      "mark": {"type": "rule", "strokeWidth": 1.6, "color": "#2a9aa2"},
      "encoding": {
        "x": {"field": "shift", "type": "quantitative"},
        "y": {"field": "intensity", "type": "quantitative"},
        "x2": {"field": "shift_end"},
        "y2": {"field": "intensity_end"}
      }
    },
    {
      "data": {"name": "labels"},
      "mark": {"type": "text", "align": "left", "baseline": "alphabetic", "fontSize": 33.8, "fontWeight": "bold", "font": "Liberation Sans"},
      "encoding": {
        "x": {"field": "shift", "type": "quantitative"},
        "y": {"field": "intensity", "type": "quantitative"},
        "text": {"field": "text"},
        "color": {
          "field": "kind", "type": "nominal",
          "scale": {"domain": ["goethite", "silicate", "sep", "remnant", "olivine"], "range": ["#ee1c1c", "#7f0d0d", "#111111", "#12127e", "#178a17"]},
          "legend": null
        }
      }
    }
  ],
  "resolve": {"scale": {"color": "independent"}}
}
